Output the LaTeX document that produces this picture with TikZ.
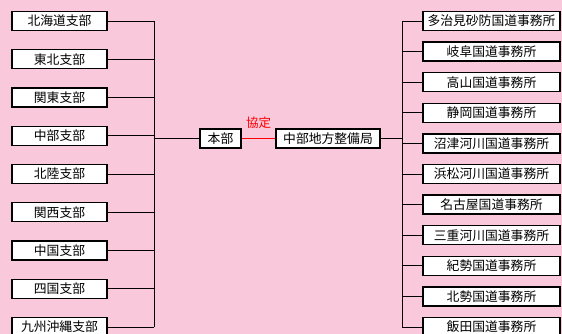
\documentclass[tikz,border=0pt]{standalone}
\usepackage{fontspec}
\newfontfamily\jpfont{Noto Sans CJK JP}
\definecolor{bgpink}{RGB}{249,200,218}
\begin{document}
\begin{tikzpicture}[x=1pt,y=-1pt,
  box/.style={draw=black,fill=white,line width=1.3pt,minimum height=19pt,inner sep=0pt,
    font=\jpfont\fontsize{12.8}{13}\selectfont},
  lbox/.style={box,minimum width=95pt},
  rbox/.style={box,minimum width=137pt},
  conn/.style={black,line width=0.9pt}]
\useasboundingbox[fill=bgpink] (0,0) rectangle (562,334);
%%Linke Seite
\foreach \n/\t [count=\i from 0] in {1/北海道支部,2/東北支部,3/関東支部,4/中部支部,5/北陸支部,6/関西支部,7/中国支部,8/四国支部,9/九州沖縄支部}
  \node[lbox] (lb\n) at (59.5,21+38.25*\i) {\t};
\coordinate (lbus) at (154,0);
\foreach \n in {1,...,9}
  \draw[conn] (lb\n.east) -- (lb\n.east -| lbus);
\draw[conn] (lb1.east -| lbus) -- (lb9.east -| lbus);
%%Mitte
\node[box,minimum width=41pt] (honbu) at (220.5,138.5) {本部};
\node[box,minimum width=104pt] (chubu) at (328,138.5) {中部地方整備局};
\draw[conn] (honbu.west) -- (honbu.west -| lbus);
\draw[red,line width=1pt] (honbu) -- node[above=6pt,font=\jpfont\fontsize{12.5}{13}\selectfont] {協定} (chubu);
%%Rechte Seite
\foreach \n/\t [count=\i from 0] in {1/多治見砂防国道事務所,2/岐阜国道事務所,3/高山国道事務所,4/静岡国道事務所,5/沼津河川国道事務所,6/浜松河川国道事務所,7/名古屋国道事務所,8/三重河川国道事務所,9/紀勢国道事務所,10/北勢国道事務所,11/飯田国道事務所}
  \node[rbox] (rb\n) at (491.5,21+30.6*\i) {\t};
\coordinate (rbus) at (402,0);
\draw[conn] (chubu.east) -- (chubu.east -| rbus);
\foreach \n in {1,...,11}
  \draw[conn] (rb\n.west) -- (rb\n.west -| rbus);
\draw[conn] (rb1.west -| rbus) -- (rb11.west -| rbus);
\end{tikzpicture}
\end{document}
